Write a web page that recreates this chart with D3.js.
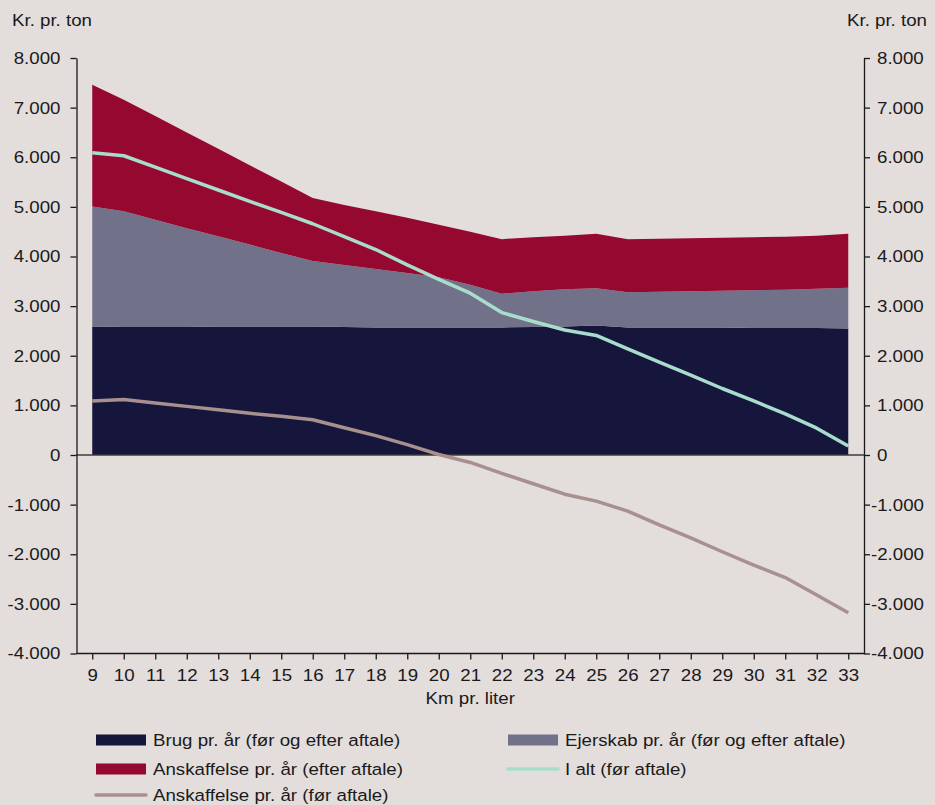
<!DOCTYPE html>
<html>
<head>
<meta charset="utf-8">
<script src="https://d3js.org/d3.v7.min.js"></script>
<style>
  body { margin: 0; background: #e3dddc; }
  svg { display: block; font-family: "Liberation Sans", Arial, sans-serif; }
</style>
</head>
<body>
<script>
"use strict";

// km pr. liter (categories)
var km = [9, 10, 11, 12, 13, 14, 15, 16, 17, 18, 19, 20, 21, 22, 23, 24, 25, 26, 27, 28, 29, 30, 31, 32, 33];

// kr. pr. ton
var brug      = [2590, 2580, 2580, 2580, 2590, 2590, 2590, 2590, 2580, 2570, 2570, 2570, 2570, 2570, 2580, 2590, 2610, 2570, 2570, 2570, 2570, 2560, 2560, 2560, 2550];
var ejerskab  = [2420, 2330, 2160, 1990, 1820, 1650, 1480, 1320, 1250, 1180, 1100, 1010, 860, 680, 720, 750, 750, 710, 720, 730, 740, 760, 770, 790, 820];
var anskEfter = [2450, 2250, 2090, 1930, 1760, 1600, 1440, 1270, 1210, 1160, 1110, 1060, 1070, 1100, 1090, 1080, 1100, 1070, 1070, 1070, 1070, 1070, 1070, 1070, 1090];
var iAlt      = [6090, 6030, 5800, 5570, 5340, 5110, 4890, 4660, 4400, 4140, 3830, 3540, 3260, 2870, 2690, 2520, 2410, 2140, 1870, 1610, 1340, 1090, 830, 540, 180];
var anskFoer  = [1090, 1120, 1050, 980, 910, 840, 780, 710, 550, 390, 210, 10, -150, -370, -580, -790, -930, -1130, -1410, -1670, -1950, -2220, -2470, -2820, -3180];

var yTicks = [-4000, -3000, -2000, -1000, 0, 1000, 2000, 3000, 4000, 5000, 6000, 7000, 8000];

var labels = {
  brug: "Brug pr. år (før og efter aftale)",
  ejerskab: "Ejerskab pr. år (før og efter aftale)",
  anskEfter: "Anskaffelse pr. år (efter aftale)",
  iAlt: "I alt (før aftale)",
  anskFoer: "Anskaffelse pr. år (før aftale)"
};

var colors = {
  brug: "#16153b",
  ejerskab: "#71728a",
  anskEfter: "#95082f",
  iAlt: "#a8ddcc",
  anskFoer: "#a8908e"
};

var width = 935, height = 805;
var SX = 1.1;   // the source font runs a bit wide
var plotLeft = 76.5, plotRight = 864, plotTop = 58, plotBottom = 653.5;

var svg = d3.select("body").append("svg")
    .attr("width", width)
    .attr("height", height);

svg.append("rect").attr("width", width).attr("height", height).attr("fill", "#e3dddc");

var x = d3.scalePoint().domain(km).range([plotLeft, plotRight]).padding(0.5);
var y = d3.scaleLinear().domain([-4000, 8000]).range([plotBottom, plotTop]);

var locale = d3.formatLocale({decimal: ",", thousands: ".", grouping: [3], currency: ["", ""], minus: "-"});
var fmt = locale.format(",.0f");

function addText(px, py, str, anchor) {
  return svg.append("text")
      .attr("x", px / SX)
      .attr("y", py)
      .attr("transform", "scale(" + SX + ",1)")
      .attr("text-anchor", anchor || "start")
      .attr("font-size", 17)
      .attr("fill", "#1a1a1a")
      .text(str);
}

// stacked areas
var rows = km.map(function(k, i) {
  return {km: k, brug: brug[i], ejerskab: ejerskab[i], anskEfter: anskEfter[i]};
});
var keys = ["brug", "ejerskab", "anskEfter"];
var stacked = d3.stack().keys(keys)(rows);

var area = d3.area()
    .x(function(d) { return x(d.data.km); })
    .y0(function(d) { return y(d[0]); })
    .y1(function(d) { return y(d[1]); });

svg.append("g").selectAll("path")
    .data(stacked)
  .enter().append("path")
    .attr("d", area)
    .attr("fill", function(d) { return colors[d.key]; });

// zero line
svg.append("line")
    .attr("x1", plotLeft).attr("x2", plotRight)
    .attr("y1", y(0)).attr("y2", y(0))
    .attr("stroke", "#3d3d3d")
    .attr("stroke-width", 1.6);

// lines
var line = d3.line()
    .x(function(d, i) { return x(km[i]); })
    .y(function(d) { return y(d); });

[["anskFoer", anskFoer], ["iAlt", iAlt]].forEach(function(s) {
  svg.append("path")
      .attr("d", line(s[1]))
      .attr("fill", "none")
      .attr("stroke", colors[s[0]])
      .attr("stroke-width", 3.5)
      .attr("stroke-linejoin", "round");
});

// axes
function styleAxis(g) {
  g.select(".domain").attr("stroke", "#1a1a1a").attr("stroke-width", 1.3);
  g.selectAll(".tick line").attr("stroke", "#1a1a1a").attr("stroke-width", 1.3);
  g.selectAll(".tick text")
      .attr("font-size", 17)
      .attr("fill", "#1a1a1a")
      .attr("font-family", "Liberation Sans, Arial, sans-serif")
      .attr("transform", "scale(" + SX + ",1)");
}

var gl = svg.append("g")
    .attr("transform", "translate(" + plotLeft + ",0)")
    .call(d3.axisLeft(y).tickValues(yTicks).tickFormat(fmt).tickSize(6).tickSizeOuter(0).tickPadding(10));
styleAxis(gl);
gl.selectAll(".tick text").attr("x", -16 / SX);

var gr = svg.append("g")
    .attr("transform", "translate(" + plotRight + ",0)")
    .call(d3.axisRight(y).tickValues(yTicks).tickFormat(fmt).tickSize(6).tickSizeOuter(0).tickPadding(8));
styleAxis(gr);
gr.selectAll(".tick text")
    .attr("text-anchor", "start")
    .attr("x", function(d) { return (d < 0 ? 7 : 13) / SX; });

var gx = svg.append("g")
    .attr("transform", "translate(0," + plotBottom + ")")
    .call(d3.axisBottom(x).tickSize(6).tickSizeOuter(0).tickPadding(9));
styleAxis(gx);
gx.selectAll(".tick text").attr("x", 0);
gx.select(".domain").attr("d", "M" + plotLeft + ",0H" + plotRight);

// axis titles
addText(12, 26, "Kr. pr. ton", "start");
addText(927, 26, "Kr. pr. ton", "end");
addText((plotLeft + plotRight) / 2, 704, "Km pr. liter", "middle");

// legend
var legendItems = [
  {key: "brug", kind: "rect", lx: 96, ly: 740},
  {key: "ejerskab", kind: "rect", lx: 508, ly: 740},
  {key: "anskEfter", kind: "rect", lx: 96, ly: 769},
  {key: "iAlt", kind: "line", lx: 508, ly: 769},
  {key: "anskFoer", kind: "line", lx: 96, ly: 795}
];

legendItems.forEach(function(it) {
  if (it.kind === "rect") {
    svg.append("rect")
        .attr("x", it.lx).attr("y", it.ly - 5.5)
        .attr("width", 50).attr("height", 11)
        .attr("fill", colors[it.key]);
  } else {
    svg.append("line")
        .attr("x1", it.lx).attr("x2", it.lx + 50)
        .attr("y1", it.ly).attr("y2", it.ly)
        .attr("stroke", colors[it.key])
        .attr("stroke-width", 3.5)
        .attr("stroke-linecap", "round");
  }
  addText(it.lx + 57, it.ly + 6, labels[it.key], "start");
});
</script>
</body>
</html>
